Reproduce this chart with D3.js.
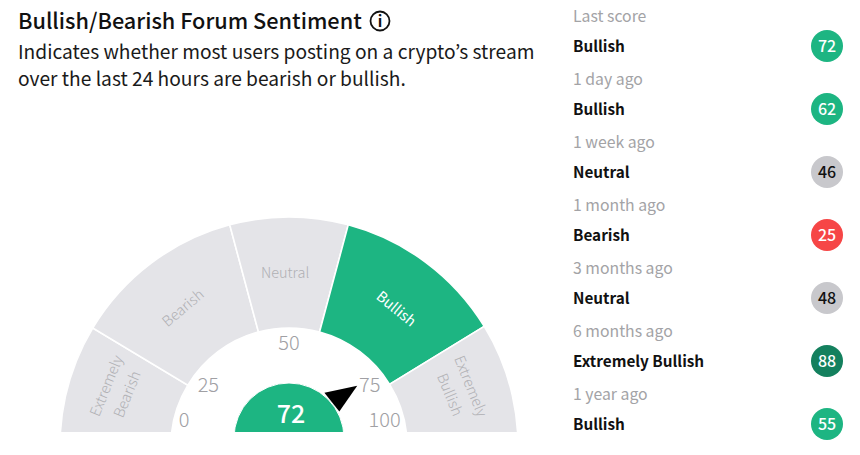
<!DOCTYPE html>
<html>
<head>
<meta charset="utf-8">
<script src="https://cdnjs.cloudflare.com/ajax/libs/d3/7.8.5/d3.min.js"></script>
<style>
  html, body { margin: 0; background: #fff; }
  svg { display: block; }
  text { font-family: "Noto Sans CJK JP", "Noto Sans", sans-serif; }
</style>
</head>
<body>
<script>
// Sentiment bands: label lines and score thresholds
const bandNames = [["Extremely", "Bearish"], ["Bearish"], ["Neutral"], ["Bullish"], ["Extremely", "Bullish"]];
const bandEdges = [0, 20, 45, 55, 80, 100];
const gaugeTicks = [0, 25, 50, 75, 100];
const currentScore = 72;

// Score history
const historyPeriods = ["Last score", "1 day ago", "1 week ago", "1 month ago", "3 months ago", "6 months ago", "1 year ago"];
const historyLabels = ["Bullish", "Bullish", "Neutral", "Bearish", "Neutral", "Extremely Bullish", "Bullish"];
const historyScores = [72, 62, 46, 25, 48, 88, 55];

const titleText = "Bullish/Bearish Forum Sentiment";
const subtitleLines = ["Indicates whether most users posting on a crypto\u2019s stream", "over the last 24 hours are bearish or bullish."];

const width = 860, height = 455;
const svg = d3.select("body").append("svg").attr("width", width).attr("height", height);

const deg = Math.PI / 180;
const GREEN = "#1db582", GREY = "#e4e4e8";

// Header
svg.append("text").attr("x", 18).attr("y", 29).attr("font-size", 21.7).attr("font-weight", 500)
  .attr("fill", "#111").text(titleText);
svg.selectAll("text.sub").data(subtitleLines).join("text").attr("class", "sub")
  .attr("x", 18).attr("y", (d, i) => 59 + i * 27).attr("font-size", 19.2).attr("fill", "#1a1a1a").text(d => d);

// Info glyph beside the title
const info = svg.append("g").attr("transform", "translate(380,21)");
info.append("circle").attr("r", 9.5).attr("fill", "none").attr("stroke", "#111").attr("stroke-width", 1.8);
info.append("text").attr("y", 5.5).attr("text-anchor", "middle").attr("font-size", 15).attr("font-weight", 700).attr("fill", "#111").text("i");

// Clip everything in the gauge to the flat cut along its bottom
const cx = 289, cy = 446, baseline = 432;
svg.append("clipPath").attr("id", "gaugeCut").append("rect").attr("x", 0).attr("y", 0).attr("width", width).attr("height", baseline);

// The centre sits below the cut, so the arcs run past the baseline
const clipped = svg.append("g").attr("clip-path", "url(#gaugeCut)");
const bandLayer = clipped.append("g").attr("transform", `translate(${cx},${cy})`);
const gauge = svg.append("g").attr("transform", `translate(${cx},${cy})`);

// Score to angle, measured in degrees clockwise from straight up
const angle = d3.scaleLinear().domain(bandEdges).range([-96, -59, -15, 15, 58.5, 96]);
const arc = d3.arc().innerRadius(118).outerRadius(229);

const bands = bandNames.map((name, i) => ({
  name, lo: bandEdges[i], hi: bandEdges[i + 1],
  active: currentScore >= bandEdges[i] && currentScore < bandEdges[i + 1]
}));

bandLayer.selectAll("path.band").data(bands).join("path").attr("class", "band")
  .attr("d", d => arc({ startAngle: angle(d.lo) * deg, endAngle: angle(d.hi) * deg }))
  .attr("fill", d => d.active ? GREEN : GREY)
  .attr("stroke", "#fff").attr("stroke-width", 1.6);

// Band captions, turned to follow each band
const captionAngle = [-72, -37.5, -1.3, 38, 72];
const captionRadius = [181, 174, 173, 174, 180];
const captionTurn = [-68, -40, 0, 39.5, 68];
bands.forEach((b, i) => {
  const a = captionAngle[i] * deg, r = captionRadius[i];
  const t = gauge.append("text")
    .attr("transform", `translate(${Math.sin(a) * r},${-Math.cos(a) * r}) rotate(${captionTurn[i]})`)
    .attr("text-anchor", "middle").attr("font-size", 14.5).attr("font-weight", b.active ? 400 : 300)
    .attr("fill", b.active ? "#fff" : "#b0b0b4");
  b.name.forEach((line, k) => {
    t.append("tspan").attr("x", 0).attr("y", 5 + (k - (b.name.length - 1) / 2) * 22.5).text(line);
  });
});

// Tick labels around the hub
const tickAngle = d3.scaleLinear().domain(gaugeTicks).range([-76, -53, 0, 53, 75]);
const tickRadius = d3.scaleLinear().domain(gaugeTicks).range([108, 101, 103, 101, 99]);
gauge.selectAll("text.tick").data(gaugeTicks).join("text").attr("class", "tick")
  .attr("x", d => Math.sin(tickAngle(d) * deg) * tickRadius(d))
  .attr("y", d => -Math.cos(tickAngle(d) * deg) * tickRadius(d) + 7)
  .attr("text-anchor", "middle").attr("font-size", 20).attr("font-weight", 300).attr("fill", "#a0a0a4").text(d => d);

// Needle
const needleA = angle(currentScore) * deg;
const polar = (a, r) => [Math.sin(a) * r, -Math.cos(a) * r];
gauge.append("path")
  .attr("d", "M" + [polar(needleA + 4 * deg, 91), polar(needleA - 11 * deg, 64), polar(needleA + 11 * deg, 61)].join("L") + "Z")
  .attr("fill", "#000");

// Hub with the current score
clipped.append("path")
  .attr("transform", `translate(${cx},${baseline + 6})`)
  .attr("d", d3.arc().innerRadius(0).outerRadius(55)({ startAngle: -Math.PI, endAngle: Math.PI }))
  .attr("fill", GREEN)
  .attr("stroke", "#fff").attr("stroke-width", 1);
svg.append("text").attr("x", cx + 2).attr("y", 423).attr("text-anchor", "middle")
  .attr("font-size", 25).attr("font-weight", 500).attr("fill", "#fff").text(currentScore);

// History list
const rowY = d3.scalePoint().domain(d3.range(historyScores.length)).range([46, 424]);
const badgeColor = s => s >= 80 ? "#14805e" : s >= 55 ? GREEN : s >= 45 ? "#c8c8cc" : "#f64646";

const rows = svg.selectAll("g.row").data(historyScores).join("g").attr("class", "row")
  .attr("transform", (d, i) => `translate(0,${rowY(i)})`);
rows.append("text").attr("x", 573).attr("y", -24).attr("font-size", 15.8).attr("fill", "#a3a3a6")
  .text((d, i) => historyPeriods[i]);
rows.append("text").attr("x", 573).attr("y", 6).attr("font-size", 15.3).attr("font-weight", 700).attr("fill", "#111")
  .text((d, i) => historyLabels[i]);
rows.append("circle").attr("cx", 827).attr("r", 16).attr("fill", d => badgeColor(d));
rows.append("text").attr("x", 827).attr("y", 5.5).attr("text-anchor", "middle").attr("font-size", 16).attr("font-weight", 500)
  .attr("fill", d => badgeColor(d) === "#c8c8cc" ? "#111" : "#fff").text(d => d);
</script>
</body>
</html>
